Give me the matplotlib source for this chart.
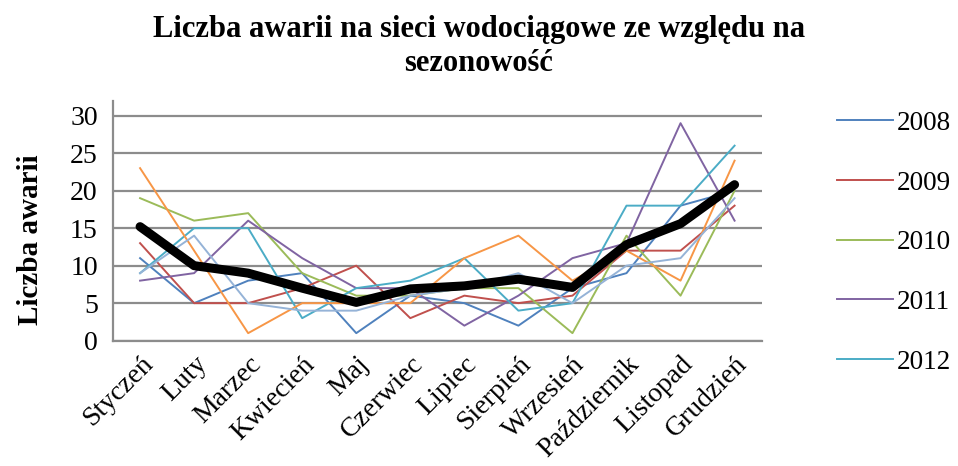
import matplotlib.pyplot as plt

plt.rcParams['font.family'] = ['Liberation Serif', 'DejaVu Serif']

# miesiące i liczba awarii w poszczególnych latach
miesiace = ['Styczeń', 'Luty', 'Marzec', 'Kwiecień', 'Maj', 'Czerwiec', 'Lipiec',
            'Sierpień', 'Wrzesień', 'Październik', 'Listopad', 'Grudzień']
lata = ['2008', '2009', '2010', '2011', '2012']
a2008 = [11, 5, 8, 9, 1, 6, 5, 2, 7, 9, 18, 20]
a2009 = [13, 5, 5, 7, 10, 3, 6, 5, 6, 12, 12, 18]
a2010 = [19, 16, 17, 9, 6, 6, 7, 7, 1, 14, 6, 20]
a2011 = [8, 9, 16, 11, 7, 7, 2, 6, 11, 13, 29, 16]
a2012 = [9, 15, 15, 3, 7, 8, 11, 4, 5, 18, 18, 26]
# serie bez opisu w legendzie (obcięta legenda)
a_pom = [23, 12, 1, 5, 5, 5, 11, 14, 8, 12, 8, 24]
a_jas = [9, 14, 5, 4, 4, 6, 7, 9, 5, 10, 11, 19]
srednia = [15.2, 10.0, 9.0, 7.0, 5.1, 6.9, 7.3, 8.2, 7.1, 12.8, 15.6, 20.8]

kolory = ['#4F81BD', '#C0504D', '#9BBB59', '#8064A2', '#4BACC6']

fig = plt.figure(figsize=(9.58, 4.66), dpi=100)
ax = fig.add_axes([0.118, 0.269, 0.677, 0.515])

x = range(len(miesiace))
for dane, kol, lab in zip([a2008, a2009, a2010, a2011, a2012], kolory, lata):
    ax.plot(x, dane, color=kol, lw=1.4, label=lab)
ax.plot(x, a_pom, color='#F79646', lw=1.4)
ax.plot(x, a_jas, color='#95B3D7', lw=1.4)
ax.plot(x, srednia, color='black', lw=6.5, solid_capstyle='round', solid_joinstyle='round')

ax.set_xlim(-0.5, 11.5)
ax.set_ylim(0, 32)
ax.set_yticks(range(0, 31, 5))
ax.set_xticks(list(x))
ax.set_xticklabels(miesiace, rotation=45, ha='right', rotation_mode='anchor')
ax.tick_params(axis='both', length=0, labelsize=20)
ax.tick_params(axis='x', pad=8)
ax.tick_params(axis='y', pad=11)
ax.grid(axis='y', color='#8c8c8c', lw=1.6)
ax.set_axisbelow(True)
for s in ['top', 'right']:
    ax.spines[s].set_visible(False)
for s in ['left', 'bottom']:
    ax.spines[s].set_color('#8c8c8c')
    ax.spines[s].set_linewidth(1.6)

fig.text(0.5, 0.968, 'Liczba awarii na sieci wodociągowe ze względu na\nsezonowość',
         ha='center', va='top', fontsize=22, fontweight='bold', linespacing=1.25)
fig.text(0.032, 0.485, 'Liczba awarii', rotation=90, ha='center', va='center',
         fontsize=21, fontweight='bold')

fig.legend(loc='upper left', bbox_to_anchor=(0.874, 0.762), frameon=False,
           fontsize=19.5, handlelength=2.05, handletextpad=0.15, labelspacing=1.28,
           borderpad=0, borderaxespad=0)

fig.savefig('out.png', dpi=100)
